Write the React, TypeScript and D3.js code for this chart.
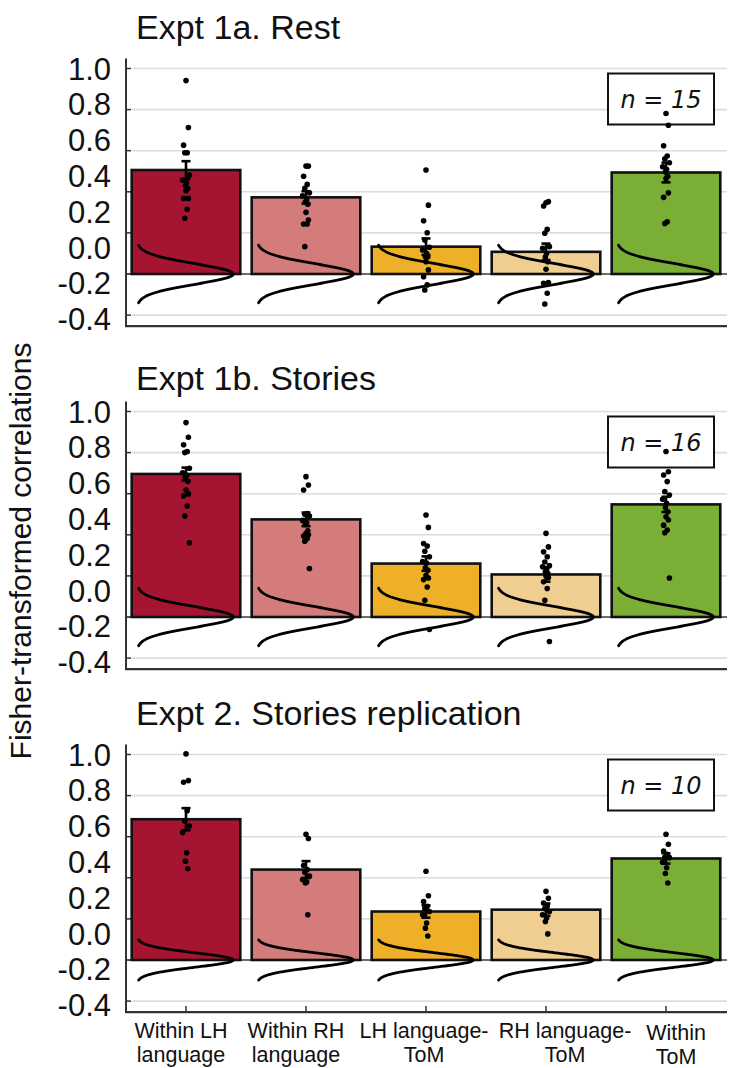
import React from "react";
import * as d3 from "d3";

// ---------- data ----------
const categories = ["Within LH language", "Within RH language", "LH language-ToM", "RH language-ToM", "Within ToM"];
const categoryLines = [["Within LH", "language"], ["Within RH", "language"], ["LH language-", "ToM"], ["RH language-", "ToM"], ["Within", "ToM"]];
const panelTitles = ["Expt 1a. Rest", "Expt 1b. Stories", "Expt 2. Stories replication"];
const sampleSizes = [15, 16, 10];
const yTickLabels = ["1.0", "0.8", "0.6", "0.4", "0.2", "0.0", "-0.2", "-0.4"];
const gridValues = [1.0, 0.8, 0.6, 0.4, 0.2, 0.0, -0.2];
const yAxisTitle = "Fisher-transformed correlations";

const meansRest = [0.506, 0.373, 0.133, 0.108, 0.494];
const meansStories = [0.696, 0.475, 0.26, 0.207, 0.548];
const meansReplication = [0.685, 0.44, 0.236, 0.245, 0.494];

const semRest = [0.043, 0.03, 0.04, 0.04, 0.048];
const semStories = [0.031, 0.033, 0.035, 0.035, 0.037];
const semReplication = [0.054, 0.041, 0.03, 0.03, 0.025];

const subjectsRest = [
  [0.941, 0.713, 0.627, 0.59, 0.59, 0.481, 0.457, 0.444, 0.43, 0.417, 0.405, 0.368, 0.368, 0.315, 0.271],
  [0.525, 0.525, 0.476, 0.436, 0.417, 0.395, 0.38, 0.363, 0.35, 0.34, 0.3, 0.263, 0.243, 0.243, 0.133],
  [0.506, 0.335, 0.259, 0.201, 0.165, 0.13, 0.117, 0.1, 0.084, 0.084, 0.06, 0.02, -0.013, -0.053, -0.078],
  [0.347, 0.352, 0.331, 0.217, 0.198, 0.133, 0.125, 0.1, 0.084, 0.06, 0.023, -0.042, -0.045, -0.094, -0.146],
  [0.781, 0.724, 0.624, 0.574, 0.56, 0.541, 0.522, 0.51, 0.497, 0.476, 0.465, 0.395, 0.373, 0.254, 0.246],
];
const subjectsStories = [
  [0.946, 0.875, 0.838, 0.805, 0.8, 0.724, 0.702, 0.69, 0.68, 0.66, 0.618, 0.599, 0.589, 0.54, 0.491, 0.361],
  [0.683, 0.642, 0.618, 0.504, 0.5, 0.491, 0.47, 0.459, 0.45, 0.42, 0.407, 0.4, 0.394, 0.382, 0.369, 0.236],
  [0.496, 0.436, 0.358, 0.345, 0.32, 0.293, 0.27, 0.263, 0.24, 0.228, 0.203, 0.19, 0.182, 0.146, 0.081, -0.061],
  [0.407, 0.341, 0.317, 0.293, 0.268, 0.25, 0.244, 0.228, 0.22, 0.212, 0.2, 0.192, 0.171, 0.139, 0.081, -0.119],
  [0.805, 0.707, 0.691, 0.659, 0.61, 0.594, 0.573, 0.553, 0.532, 0.512, 0.488, 0.472, 0.447, 0.423, 0.41, 0.19],
];
const subjectsReplication = [
  [1.003, 0.873, 0.865, 0.726, 0.677, 0.652, 0.62, 0.522, 0.481, 0.444],
  [0.612, 0.591, 0.46, 0.44, 0.427, 0.408, 0.392, 0.38, 0.375, 0.22],
  [0.432, 0.313, 0.285, 0.261, 0.25, 0.236, 0.22, 0.18, 0.155, 0.117],
  [0.334, 0.3, 0.277, 0.261, 0.25, 0.236, 0.22, 0.204, 0.187, 0.127],
  [0.612, 0.563, 0.53, 0.514, 0.5, 0.498, 0.476, 0.449, 0.421, 0.375],
];
const nullMean = 0;
const nullSd = [0.05, 0.05, 0.035];

// ---------- styling / layout ----------
const barColors = ["#A51532", "#D47B7B", "#EEB028", "#F0CD91", "#7AAE34"];
const W = 731;
const H = 1068;
const axisX = 126;
const rightX = 727;
const panelZeroY = [274, 617, 960];
const pxPerUnit = 205.5;
const labelDx = [-5, -10, -2, 19, 10];
const labelDy = [0, 0, 0, 0, 2];
const jitterPattern = [0, 2.4, -2.4, 1.2, -1.2, 3.4, -3.4, 0.6, -0.6, 1.8];
const SANS = "'Liberation Sans', Arial, Helvetica, sans-serif";

const panels = [
  { title: panelTitles[0], n: sampleSizes[0], means: meansRest, sem: semRest, subjects: subjectsRest, sd: nullSd[0] },
  { title: panelTitles[1], n: sampleSizes[1], means: meansStories, sem: semStories, subjects: subjectsStories, sd: nullSd[1] },
  { title: panelTitles[2], n: sampleSizes[2], means: meansReplication, sem: semReplication, subjects: subjectsReplication, sd: nullSd[2] },
];

const x = d3.scaleBand<string>().domain(categories).range([axisX, rightX - 1]).paddingInner(0.095).paddingOuter(0.0475);

function Panel({ p, idx }: { p: any; idx: number }) {
  const zero = panelZeroY[idx];
  const y = d3.scaleLinear().domain([0, 1]).range([zero, zero - pxPerUnit]);
  const yTop = y(1.0);
  const yBot = y(-0.2);
  const labelPos = d3.scalePoint<string>().domain(yTickLabels).range([yTop, yBot + 4]);
  const bw = x.bandwidth();
  const zs = d3.range(-2.8, 2.8001, 0.05);
  const curve = d3.line<number>()
    .x((z) => 5 + (bw - 12) * Math.exp(-(z * z) / 2))
    .y((z) => y(nullMean + z * p.sd));
  const isLast = idx === panels.length - 1;
  const axisBottom = yBot + 11;
  return (
    <g>
      <text x={136} y={yTop - (idx === 1 ? 22 : 30)} fontFamily={SANS} fontSize={34} fill="#111">{p.title}</text>
      {gridValues.map((g) => (
        <line key={"g" + g} x1={axisX + 6} x2={rightX} y1={y(g)} y2={y(g)} stroke="#DCDCDC" strokeWidth={1.6} />
      ))}
      {gridValues.map((g) => (
        <line key={"t" + g} x1={axisX} x2={axisX + 5} y1={y(g)} y2={y(g)} stroke="#333" strokeWidth={1.5} />
      ))}
      {yTickLabels.map((t) => (
        <text key={"l" + t} x={111} y={labelPos(t)} dy="0.36em" textAnchor="end" fontFamily={SANS} fontSize={31} fill="#111">{t}</text>
      ))}
      <line x1={axisX} x2={rightX} y1={y(0)} y2={y(0)} stroke="#444" strokeWidth={1.4} />
      {categories.map((c, i) => (
        <g key={c}>
          <rect x={x(c)} y={y(p.means[i])} width={bw} height={y(0) - y(p.means[i])} fill={barColors[i]} stroke="#111" strokeWidth={2.6} />
          <path d={curve(zs) || ""} transform={`translate(${x(c)},0)`} fill="none" stroke="#000" strokeWidth={2.8} strokeLinecap="round" />
        </g>
      ))}
      <rect x={608} y={yTop + 5} width={106} height={51} fill="#fff" stroke="#111" strokeWidth={2} />
      <text x={661} y={yTop + 30.5} dy="0.36em" textAnchor="middle" fontFamily="'DejaVu Sans', sans-serif" fontStyle="italic" fontSize={24} fill="#111">{`n = ${p.n}`}</text>
      {categories.map((c, i) => {
        const cx = (x(c) as number) + bw / 2;
        return (
          <g key={"d" + c}>
            {p.subjects[i].map((v: number, j: number) => (
              <circle key={j} cx={cx + jitterPattern[j % jitterPattern.length]} cy={y(v)} r={2.8} fill="#000" />
            ))}
            <line x1={cx} x2={cx} y1={y(p.means[i] - p.sem[i])} y2={y(p.means[i] + p.sem[i])} stroke="#000" strokeWidth={2.6} />
            <line x1={cx - 4.5} x2={cx + 4.5} y1={y(p.means[i] + p.sem[i])} y2={y(p.means[i] + p.sem[i])} stroke="#000" strokeWidth={2.6} />
            <line x1={cx - 4.5} x2={cx + 4.5} y1={y(p.means[i] - p.sem[i])} y2={y(p.means[i] - p.sem[i])} stroke="#000" strokeWidth={2.6} />
          </g>
        );
      })}
      <line x1={axisX} x2={axisX} y1={yTop - 10} y2={axisBottom} stroke="#333" strokeWidth={2} />
      <line x1={axisX - 1} x2={rightX} y1={axisBottom} y2={axisBottom} stroke="#333" strokeWidth={2.2} />
      {isLast &&
        categories.map((c, i) => {
          const cx = (x(c) as number) + bw / 2;
          return (
            <g key={"xt" + c}>
              <line x1={cx} x2={cx} y1={axisBottom} y2={axisBottom - 6} stroke="#333" strokeWidth={1.5} />
              {categoryLines[i].map((ln, k) => (
                <text key={k} x={cx + labelDx[i]} y={axisBottom + 26 + labelDy[i] + k * 23.5} textAnchor="middle" fontFamily={SANS} fontSize={21.5} fill="#111">{ln}</text>
              ))}
            </g>
          );
        })}
    </g>
  );
}

export default function App() {
  return (
    <svg width={W} height={H} style={{ position: "absolute", left: 0, top: 0, background: "#fff" }}>
      <rect width={W} height={H} fill="#fff" />
      {panels.map((p, i) => (
        <Panel key={i} p={p} idx={i} />
      ))}
      <text transform={`translate(31,551) rotate(-90)`} textAnchor="middle" fontFamily={SANS} fontSize={30} fill="#111">{yAxisTitle}</text>
    </svg>
  );
}
